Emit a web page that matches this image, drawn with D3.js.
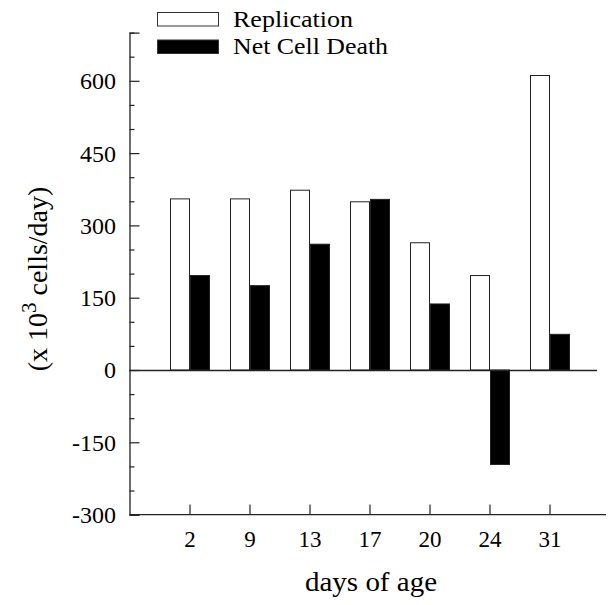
<!DOCTYPE html>
<html><head><meta charset="utf-8">
<script src="https://cdn.jsdelivr.net/npm/d3@7"></script>
<style>body{margin:0;background:#fff}svg{display:block}text{font-family:"Liberation Serif","Times New Roman",Tinos,serif;fill:#000}</style>
</head><body>
<script>
const categories = ["2","9","13","17","20","24","31"];
const replication = [355, 355, 373, 349, 264, 196, 611];
const netCellDeath = [196, 175, 261, 354, 137, -196, 74];
const seriesNames = ["Replication", "Net Cell Death"];
const yMajorTicks = [-300, -150, 0, 150, 300, 450, 600];
const yMinorTicks = [-250, -200, -100, -50, 50, 100, 200, 250, 350, 400, 500, 550, 650, 700];

const FONT = "'Liberation Serif', 'Times New Roman', Tinos, serif";
const W = 608, H = 605;
const svg = d3.select("body").append("svg").attr("width", W).attr("height", H)
  .attr("font-family", FONT);

const y = d3.scaleLinear().domain([-300, 700]).range([514.6, 32.6]);
const x = d3.scaleBand().domain(categories).range([170, 570]).paddingInner(1/3).paddingOuter(0);
const xs = d3.scaleBand().domain(seriesNames).range([0, x.bandwidth()]);
const axX = 129.5;

const data = categories.map((c, i) => ({c, vals: [
  {s: "Replication", v: replication[i]},
  {s: "Net Cell Death", v: netCellDeath[i]}
]}));

// bars
const g = svg.append("g");
g.selectAll("g.grp").data(data).join("g")
  .attr("transform", d => `translate(${x(d.c)},0)`)
  .selectAll("rect").data(d => d.vals).join("rect")
  .attr("x", d => xs(d.s) + 0.5)
  .attr("width", xs.bandwidth() - 1)
  .attr("y", d => Math.min(y(d.v), y(0)))
  .attr("height", d => Math.abs(y(d.v) - y(0)))
  .attr("fill", d => d.s === "Replication" ? "#fff" : "#000")
  .attr("stroke", "#222").attr("stroke-width", 1);

// zero line
svg.append("line").attr("x1", axX).attr("x2", 597).attr("y1", Math.round(y(0)) + 0.5).attr("y2", Math.round(y(0)) + 0.5)
  .attr("stroke", "#222").attr("stroke-width", 1.3);

// y axis (ticks inward)
const yAxis = d3.axisRight(y).tickValues(yMajorTicks).tickSize(10).tickFormat("");
const ya = svg.append("g").attr("transform", `translate(${axX},0)`).call(yAxis);
ya.select(".domain").attr("stroke", "#222").attr("stroke-width", 1.3);
ya.selectAll(".tick line").attr("stroke", "#222").attr("stroke-width", 1.2);
const yMinor = d3.axisRight(y).tickValues(yMinorTicks).tickSize(5).tickFormat("");
const ym = svg.append("g").attr("transform", `translate(${axX},0)`).call(yMinor);
ym.select(".domain").remove();
ym.selectAll(".tick line").attr("stroke", "#222").attr("stroke-width", 1.2);
svg.selectAll(".ylab").data(yMajorTicks).join("text")
  .attr("font-family", FONT)
  .attr("x", 116).attr("y", d => y(d)).attr("dy", "0.35em")
  .attr("text-anchor", "end").attr("font-size", 24).text(d => d);

// x axis
const xAxis = d3.axisTop(x).tickSize(10).tickFormat("");
const xa = svg.append("g").attr("transform", `translate(0,${y(-300)})`).call(xAxis);
xa.select(".domain").remove();
xa.selectAll(".tick line").attr("stroke", "#222").attr("stroke-width", 1.2);
svg.append("line").attr("x1", axX).attr("x2", 606).attr("y1", y(-300)).attr("y2", y(-300))
  .attr("stroke", "#222").attr("stroke-width", 1.3);
svg.selectAll(".xlab").data(categories).join("text")
  .attr("font-family", FONT)
  .attr("x", d => x(d) + x.bandwidth() / 2).attr("y", 547)
  .attr("text-anchor", "middle").attr("font-size", 23).text(d => d);

// axis titles
svg.append("text").attr("font-family", FONT).attr("x", 371).attr("y", 591).attr("text-anchor", "middle")
  .attr("font-size", 27).attr("textLength", 132).attr("lengthAdjust", "spacingAndGlyphs").text("days of age");
const yt = svg.append("text").attr("font-family", FONT).attr("transform", "translate(47,279) rotate(-90)")
  .attr("text-anchor", "middle").attr("font-size", 28);
yt.append("tspan").text("(x 10");
yt.append("tspan").attr("dy", -11).attr("font-size", 21).text("3");
yt.append("tspan").attr("dy", 11).text(" cells/day)");

// legend
const leg = svg.append("g");
seriesNames.forEach((s, i) => {
  leg.append("rect").attr("x", 157.5).attr("y", 12.5 + i * 27.5).attr("width", 61).attr("height", 13.5)
    .attr("fill", i === 0 ? "#fff" : "#000").attr("stroke", "#333").attr("stroke-width", 1);
  leg.append("text").attr("font-family", FONT).attr("x", 233).attr("y", 26.5 + i * 27.5).attr("font-size", 23)
    .attr("textLength", i === 0 ? 120 : 155).attr("lengthAdjust", "spacingAndGlyphs").text(s);
});
</script>
</body></html>
